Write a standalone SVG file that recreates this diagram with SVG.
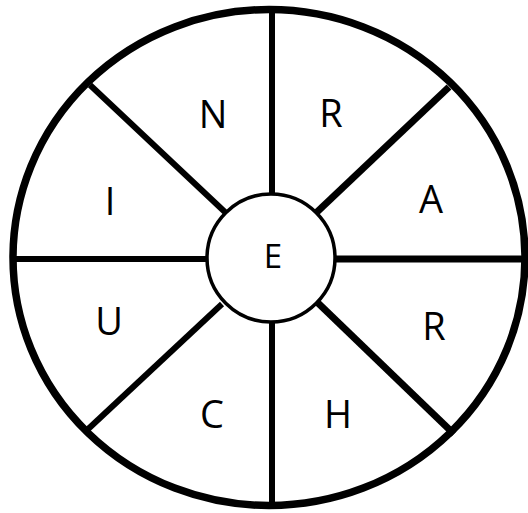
<svg xmlns="http://www.w3.org/2000/svg" width="528" height="513" viewBox="0 0 528 513">
<style>
.rim{fill:#fff;stroke:#000;stroke-width:7.5}
.hub{fill:#fff;stroke:#000;stroke-width:3.5}
.spoke{stroke:#000;stroke-width:6;stroke-linecap:butt}
.thick{stroke-width:7}
.lbl{font-family:"Open Sans","Liberation Sans",sans-serif;font-size:38px;fill:#000;text-anchor:middle}
.hubl{font-size:33px}
</style>
<rect width="528" height="513" fill="#fff"/>
<g id="rim"><ellipse class="rim" cx="269" cy="257.5" rx="256" ry="248"/></g>
<g id="connectors">
<line class="spoke" x1="272" y1="10" x2="272" y2="196"/>
<line class="spoke" x1="272" y1="320" x2="272" y2="506"/>
<line class="spoke" x1="13" y1="259" x2="206" y2="259"/>
<line class="spoke thick" x1="336" y1="259" x2="528" y2="259"/>
<line class="spoke" x1="90" y1="85" x2="226" y2="213"/>
<line class="spoke thick" x1="449" y1="87" x2="317" y2="212"/>
<line class="spoke" x1="86" y1="431" x2="222" y2="304"/>
<line class="spoke thick" x1="454" y1="434" x2="318" y2="303"/>
</g>
<g id="hub"><circle class="hub" cx="271" cy="258" r="64"/><text class="lbl hubl" x="273" y="268">E</text></g>
<g id="seg-N"><text class="lbl" x="213" y="128">N</text></g>
<g id="seg-R1"><text class="lbl" x="331" y="127">R</text></g>
<g id="seg-A"><text class="lbl" x="431" y="213">A</text></g>
<g id="seg-R2"><text class="lbl" x="434" y="340">R</text></g>
<g id="seg-H"><text class="lbl" x="338" y="428">H</text></g>
<g id="seg-C"><text class="lbl" x="212" y="428">C</text></g>
<g id="seg-U"><text class="lbl" x="109" y="335">U</text></g>
<g id="seg-I"><text class="lbl" x="110" y="215">I</text></g>
</svg>
